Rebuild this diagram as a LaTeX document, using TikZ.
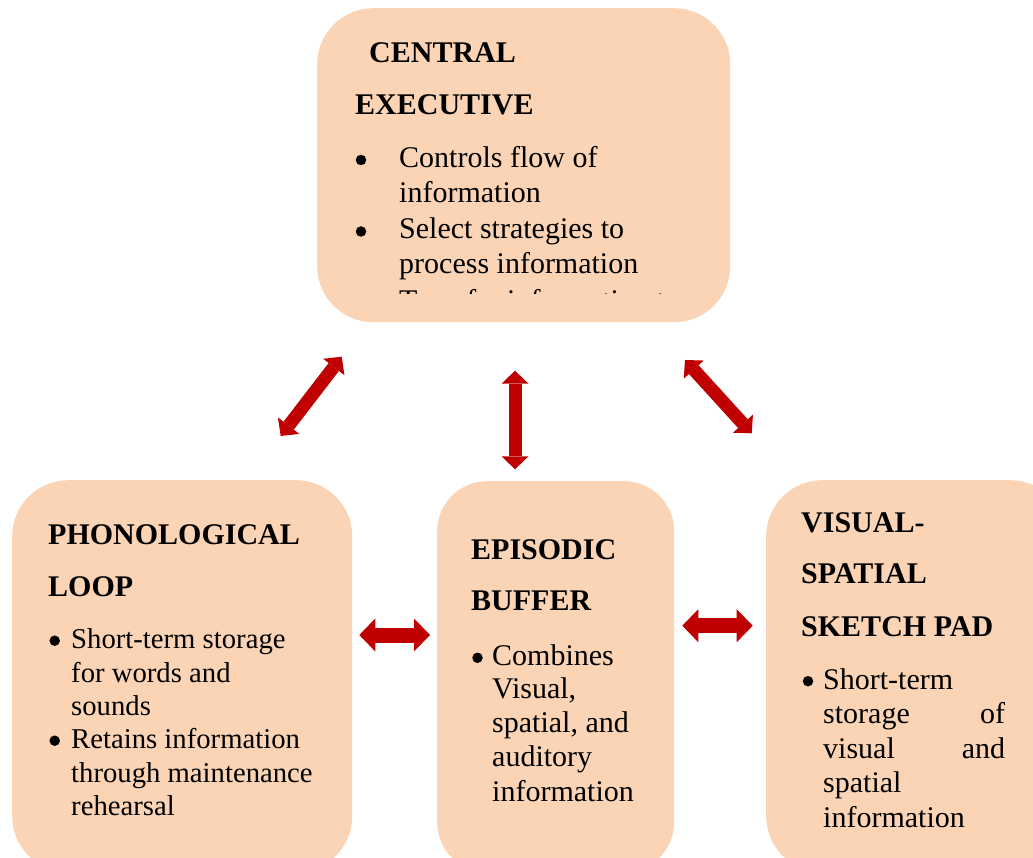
\documentclass[tikz,border=0pt]{standalone}
\usepackage{fontspec}
\setmainfont{Liberation Serif}
\usetikzlibrary{arrows.meta}
\definecolor{peach}{HTML}{FAD4B4}
\definecolor{arrowred}{HTML}{C00000}
\begin{document}
\begin{tikzpicture}[x=1pt,y=-1pt,
  box/.style={fill=peach, draw=none, rounded corners=56pt, inner sep=0pt, anchor=north west},
  txt/.style={anchor=base west, inner sep=0pt, font=\fontsize{30}{34}\selectfont},
  stxt/.style={anchor=base west, inner sep=0pt, font=\fontsize{28.7}{33}\selectfont},
  hd/.style={anchor=base west, inner sep=0pt, font=\fontsize{30}{34}\selectfont\bfseries},
  bul/.style={circle, fill=black, draw=none, inner sep=0pt, minimum size=10.5pt},
  thinarrow/.style={draw=arrowred, line width=13pt,
    {Triangle[width=27pt,length=13pt,line width=0pt]}-{Triangle[width=27pt,length=13pt,line width=0pt]}},
  fatarrow/.style={draw=arrowred, line width=15pt,
    {Triangle[width=33pt,length=16pt,line width=0pt]}-{Triangle[width=33pt,length=16pt,line width=0pt]}},
]
\useasboundingbox (0,0) rectangle (1033,858);
\clip (0,0) rectangle (1033,858);

% boxes
\node[box, minimum width=413pt, minimum height=314pt] (ce) at (317,8) {};
\node[box, minimum width=340pt, minimum height=392pt] (pl) at (12,480) {};
\node[box, minimum width=237pt, minimum height=391pt, rounded corners=50pt] (eb) at (437,481) {};
\node[box, minimum width=300pt, minimum height=392pt] (vs) at (766,480) {};

% central executive text
\node[hd] (ce1) at (369,63) {CENTRAL};
\node[hd] (ce2) at (355,115) {EXECUTIVE};
\node[bul] (ceb1) at (361,160) {};
\node[txt] (ce3) at (399,168) {Controls flow of};
\node[txt] (ce4) at (399,203) {information};
\node[bul] (ceb2) at (361,231.5) {};
\node[txt] (ce5) at (399,239) {Select strategies to};
\node[txt] (ce6) at (399,274) {process information};
\begin{scope}
  \clip (317,0) rectangle (730,294);
  \node[bul] (ceb3) at (361,303) {};
  \node[txt] (ce7) at (399,311) {Transfer information to};
\end{scope}

% phonological loop
\node[hd] (pl1) at (48,544) {PHONOLOGICAL};
\node[hd] (pl2) at (48,596) {LOOP};
\node[bul] (plb1) at (54.7,640.7) {};
\node[stxt] (pl3) at (71,648) {Short-term storage};
\node[stxt] (pl4) at (71,682) {for words and};
\node[stxt] (pl5) at (71,715) {sounds};
\node[bul] (plb2) at (54.7,740.7) {};
\node[stxt] (pl6) at (71,748) {Retains information};
\node[stxt] (pl7) at (71,782) {through maintenance};
\node[stxt] (pl8) at (71,815) {rehearsal};

% episodic buffer
\node[hd] (eb1) at (471,559) {EPISODIC};
\node[hd] (eb2) at (471,610) {BUFFER};
\node[bul] (ebb1) at (477.5,657.8) {};
\node[txt] (eb3) at (492,665) {Combines};
\node[txt] (eb4) at (492,698.5) {Visual,};
\node[txt] (eb5) at (492,732) {spatial, and};
\node[txt] (eb6) at (492,766) {auditory};
\node[txt] (eb7) at (492,801) {information};

% visual-spatial sketch pad
\node[hd] (vs1) at (801,532) {VISUAL-};
\node[hd] (vs2) at (801,583.5) {SPATIAL};
\node[hd] (vs3) at (801,636) {SKETCH PAD};
\node[bul] (vsb1) at (808,681.2) {};
\node[txt] (vs4) at (823,689) {Short-term};
\node[txt] (vs5) at (823,723.5) {\makebox[182pt][s]{storage\hfill of}};
\node[txt] (vs6) at (823,758) {\makebox[182pt][s]{visual\hfill and}};
\node[txt] (vs7) at (823,792.5) {spatial};
\node[txt] (vs8) at (823,827) {information};

% arrows
\coordinate (la1) at (280.7,436);
\coordinate (la2) at (341.7,356.7);
\coordinate (ma1) at (515,370.7);
\coordinate (ma2) at (515,469.3);
\coordinate (ra1) at (685,360);
\coordinate (ra2) at (751.7,433.3);
\coordinate (ha1) at (359.3,635);
\coordinate (ha2) at (430,635);
\coordinate (hb1) at (682.3,625.7);
\coordinate (hb2) at (752.7,625.7);
\draw[thinarrow] (la1) -- (la2);
\draw[thinarrow] (ma1) -- (ma2);
\draw[thinarrow] (ra1) -- (ra2);
\draw[fatarrow] (ha1) -- (ha2);
\draw[fatarrow] (hb1) -- (hb2);
\end{tikzpicture}
\end{document}
